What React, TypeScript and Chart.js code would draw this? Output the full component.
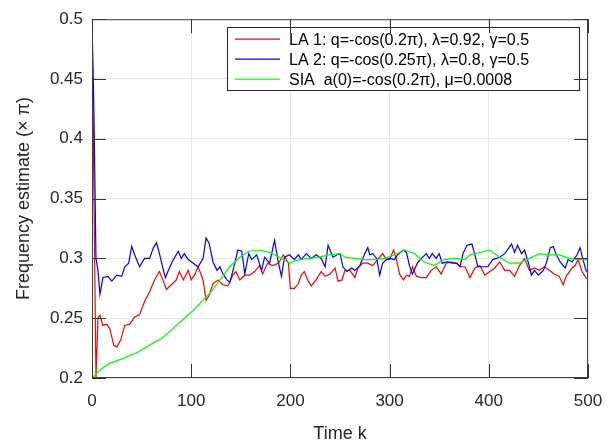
import React, { useEffect, useRef } from 'react';
import { Chart, registerables } from 'chart.js';

Chart.register(...registerables);

// ---- data ----
const la1K = [0, 2, 4, 6, 8, 11, 15, 18, 22, 25, 29, 33, 38, 43, 48, 53, 58, 63, 68, 72, 75, 80, 85, 88, 92, 97, 100, 104, 107, 112, 115, 118, 122, 127, 132, 137, 142, 145, 149, 154, 159, 164, 169, 172, 177, 182, 188, 193, 198, 200, 204, 208, 211, 214, 218, 221, 226, 231, 235, 240, 245, 248, 252, 255, 260, 265, 268, 273, 278, 283, 288, 293, 297, 300, 304, 307, 310, 314, 317, 320, 323, 327, 332, 337, 342, 347, 352, 357, 362, 367, 372, 376, 381, 386, 391, 396, 401, 406, 411, 416, 421, 426, 431, 436, 441, 446, 451, 456, 461, 466, 471, 475, 478, 484, 487, 490, 494, 497, 500];
const la1Values = [0.5, 0.35, 0.2, 0.25, 0.2526, 0.244, 0.245, 0.241, 0.2273, 0.226, 0.232, 0.244, 0.245, 0.251, 0.253, 0.264, 0.272, 0.282, 0.289, 0.281, 0.274, 0.278, 0.282, 0.289, 0.282, 0.29, 0.282, 0.287, 0.293, 0.282, 0.265, 0.269, 0.279, 0.282, 0.278, 0.277, 0.286, 0.289, 0.282, 0.286, 0.286, 0.289, 0.294, 0.287, 0.296, 0.294, 0.296, 0.303, 0.296, 0.275, 0.275, 0.279, 0.286, 0.289, 0.281, 0.277, 0.282, 0.289, 0.285, 0.287, 0.292, 0.281, 0.282, 0.29, 0.29, 0.284, 0.292, 0.296, 0.296, 0.294, 0.299, 0.304, 0.299, 0.299, 0.307, 0.299, 0.287, 0.282, 0.286, 0.285, 0.293, 0.285, 0.284, 0.284, 0.29, 0.293, 0.287, 0.296, 0.297, 0.296, 0.293, 0.293, 0.284, 0.292, 0.294, 0.286, 0.289, 0.292, 0.297, 0.29, 0.29, 0.285, 0.294, 0.3, 0.29, 0.292, 0.29, 0.293, 0.29, 0.287, 0.285, 0.278, 0.285, 0.292, 0.294, 0.299, 0.289, 0.285, 0.282];

const la2K = [0, 2, 4, 6, 8, 11, 16, 20, 25, 30, 33, 37, 40, 43, 48, 53, 58, 62, 65, 68, 72, 74, 78, 82, 87, 90, 93, 97, 102, 107, 112, 115, 118, 122, 126, 129, 132, 136, 139, 144, 147, 151, 154, 158, 161, 166, 171, 174, 179, 184, 188, 191, 194, 199, 204, 208, 211, 216, 221, 226, 231, 235, 238, 243, 247, 250, 253, 257, 262, 265, 270, 275, 278, 280, 283, 287, 290, 293, 297, 300, 305, 308, 314, 317, 320, 323, 328, 332, 337, 340, 343, 347, 350, 353, 358, 363, 368, 371, 374, 378, 383, 386, 389, 394, 399, 404, 411, 416, 423, 426, 429, 433, 436, 440, 443, 446, 450, 455, 458, 462, 465, 468, 472, 477, 480, 484, 489, 492, 495, 498, 500];
const la2Values = [0.5, 0.42, 0.3, 0.29, 0.27, 0.284, 0.285, 0.281, 0.286, 0.285, 0.293, 0.296, 0.31, 0.303, 0.293, 0.3, 0.3, 0.309, 0.313, 0.304, 0.29, 0.284, 0.292, 0.299, 0.306, 0.3, 0.304, 0.299, 0.296, 0.293, 0.3, 0.317, 0.313, 0.297, 0.29, 0.293, 0.287, 0.282, 0.28, 0.296, 0.307, 0.306, 0.287, 0.304, 0.299, 0.303, 0.29, 0.301, 0.296, 0.315, 0.296, 0.285, 0.301, 0.303, 0.299, 0.303, 0.299, 0.304, 0.3, 0.303, 0.3, 0.293, 0.311, 0.301, 0.303, 0.304, 0.293, 0.289, 0.292, 0.29, 0.294, 0.304, 0.309, 0.303, 0.304, 0.3, 0.286, 0.296, 0.299, 0.3, 0.299, 0.303, 0.307, 0.305, 0.294, 0.287, 0.296, 0.3, 0.304, 0.3, 0.304, 0.3, 0.304, 0.296, 0.297, 0.296, 0.296, 0.293, 0.304, 0.311, 0.312, 0.303, 0.293, 0.293, 0.293, 0.299, 0.301, 0.304, 0.312, 0.305, 0.311, 0.304, 0.307, 0.296, 0.286, 0.29, 0.286, 0.29, 0.296, 0.309, 0.31, 0.303, 0.297, 0.292, 0.299, 0.297, 0.303, 0.309, 0.299, 0.29, 0.288];

const siaK = [0, 10, 17, 30, 47, 63, 70, 80, 93, 104, 114, 119, 129, 139, 149, 158, 169, 179, 189, 199, 209, 219, 229, 239, 250, 255, 265, 275, 285, 295, 305, 315, 325, 335, 345, 355, 366, 376, 381, 391, 401, 411, 421, 431, 441, 451, 461, 471, 481, 492, 500];
const siaValues = [0.2, 0.208, 0.212, 0.216, 0.222, 0.23, 0.233, 0.24, 0.25, 0.258, 0.267, 0.271, 0.282, 0.293, 0.301, 0.306, 0.307, 0.305, 0.301, 0.296, 0.299, 0.3, 0.301, 0.303, 0.304, 0.301, 0.3, 0.299, 0.299, 0.3, 0.303, 0.307, 0.304, 0.297, 0.294, 0.299, 0.3, 0.299, 0.303, 0.305, 0.307, 0.301, 0.296, 0.296, 0.3, 0.304, 0.303, 0.303, 0.3, 0.299, 0.299];

const seriesLabels = [
  'LA 1: q=-cos(0.2π), λ=0.92, γ=0.5',
  'LA 2: q=-cos(0.25π), λ=0.8, γ=0.5',
  'SIA  a(0)=-cos(0.2π), μ=0.0008',
];
const seriesColors = ['#ff0000', '#0000ff', '#00ff00'];

const xTicks = [0, 100, 200, 300, 400, 500];
const xTickLabels = ['0', '100', '200', '300', '400', '500'];
const yTicks = [0.2, 0.25, 0.3, 0.35, 0.4, 0.45, 0.5];
const yTickLabels = ['0.2', '0.25', '0.3', '0.35', '0.4', '0.45', '0.5'];

const xTitle = 'Time k';
const yTitle = 'Frequency estimate (× π)';

const FONT = "'Liberation Sans', Arial, sans-serif";
const TEXT_COLOR = '#262626';

const toPoints = (ks: number[], vs: number[]) => ks.map((k, i) => ({ x: k, y: vs[i] }));

const framePlugin = {
  id: 'matlabFrame',
  afterDatasetsDraw(chart: any) {
    const { ctx, chartArea } = chart;
    const { left, right, top, bottom } = chartArea;
    const xs = chart.scales.x;
    const ys = chart.scales.y;
    ctx.save();

    // legend box
    const lw = 352;
    const lh = 63;
    const lx = right - 9 - lw;
    const ly = top + 8;
    ctx.fillStyle = '#ffffff';
    ctx.fillRect(lx, ly, lw, lh);
    ctx.strokeStyle = '#262626';
    ctx.lineWidth = 1;
    ctx.strokeRect(Math.round(lx) + 0.5, Math.round(ly) + 0.5, lw, lh);
    ctx.font = `16px ${FONT}`;
    ctx.textBaseline = 'middle';
    ctx.textAlign = 'left';
    chart.data.datasets.forEach((ds: any, i: number) => {
      const ry = ly + 12 + i * 20;
      ctx.strokeStyle = ds.borderColor;
      ctx.lineWidth = 1.2;
      ctx.beginPath();
      ctx.moveTo(lx + 8, ry);
      ctx.lineTo(lx + 53, ry);
      ctx.stroke();
      ctx.fillStyle = '#000000';
      ctx.fillText(ds.label, lx + 62, ry + 1);
    });

    // frame
    ctx.strokeStyle = '#404040';
    ctx.lineWidth = 1;
    ctx.strokeRect(left + 0.5, top + 0.5, right - left - 1, bottom - top - 1);

    // inward ticks
    const tl = 14;
    ctx.strokeStyle = '#333333';
    ctx.beginPath();
    xTicks.forEach((v) => {
      const px = Math.round(xs.getPixelForValue(v)) + 0.5;
      ctx.moveTo(px, bottom);
      ctx.lineTo(px, bottom - tl);
      ctx.moveTo(px, top);
      ctx.lineTo(px, top + tl);
    });
    yTicks.forEach((v) => {
      const py = Math.round(ys.getPixelForValue(v)) + 0.5;
      ctx.moveTo(left, py);
      ctx.lineTo(left + tl, py);
      ctx.moveTo(right, py);
      ctx.lineTo(right - tl, py);
    });
    ctx.stroke();
    ctx.restore();
  },
};

export default function App() {
  const canvasRef = useRef<HTMLCanvasElement | null>(null);

  useEffect(() => {
    document.body.style.margin = '0';
    const canvas = canvasRef.current;
    if (!canvas) return;
    const chart = new Chart(canvas, {
      type: 'line',
      data: {
        datasets: [
          {
            label: seriesLabels[0],
            data: toPoints(la1K, la1Values),
            borderColor: seriesColors[0],
            borderWidth: 1.2,
            pointRadius: 0,
            tension: 0,
            order: 2,
          },
          {
            label: seriesLabels[1],
            data: toPoints(la2K, la2Values),
            borderColor: seriesColors[1],
            borderWidth: 1.2,
            pointRadius: 0,
            tension: 0,
            order: 1,
          },
          {
            label: seriesLabels[2],
            data: toPoints(siaK, siaValues),
            borderColor: seriesColors[2],
            borderWidth: 1.2,
            pointRadius: 0,
            tension: 0,
            order: 0,
          },
        ],
      },
      options: {
        responsive: false,
        animation: false,
        devicePixelRatio: 1,
        layout: { padding: { top: 15, right: 28, left: 0, bottom: 0 } },
        plugins: {
          legend: { display: false },
          tooltip: { enabled: false },
        },
        scales: {
          x: {
            type: 'linear',
            min: 0,
            max: 500,
            afterBuildTicks: (scale: any) => {
              scale.ticks = xTicks.map((v) => ({ value: v }));
            },
            afterFit: (scale: any) => {
              scale.height = 68;
            },
            ticks: {
              autoSkip: false,
              maxRotation: 0,
              padding: 13,
              color: TEXT_COLOR,
              font: { family: FONT, size: 17 },
              callback: (v: any) => {
                const i = xTicks.indexOf(Number(v));
                return i >= 0 ? xTickLabels[i] : '';
              },
            },
            grid: { color: '#e6e6e6', lineWidth: 1, drawTicks: false },
            border: { display: false },
            title: {
              display: true,
              text: xTitle,
              color: TEXT_COLOR,
              font: { family: FONT, size: 18 },
              padding: { top: 0, bottom: 1 },
            },
          },
          y: {
            type: 'linear',
            min: 0.2,
            max: 0.5,
            afterBuildTicks: (scale: any) => {
              scale.ticks = yTicks.map((v) => ({ value: v }));
            },
            afterFit: (scale: any) => {
              scale.width = 92;
            },
            ticks: {
              autoSkip: false,
              padding: 9,
              color: TEXT_COLOR,
              font: { family: FONT, size: 17 },
              callback: (v: any) => {
                const i = yTicks.findIndex((t) => Math.abs(t - Number(v)) < 1e-9);
                return i >= 0 ? yTickLabels[i] : '';
              },
            },
            grid: { color: '#e6e6e6', lineWidth: 1, drawTicks: false },
            border: { display: false },
            title: {
              display: true,
              text: yTitle,
              color: TEXT_COLOR,
              font: { family: FONT, size: 18 },
              padding: { top: 13, bottom: 0 },
            },
          },
        },
      },
      plugins: [framePlugin],
    });
    return () => chart.destroy();
  }, []);

  return (
    <div style={{ position: 'fixed', left: 0, top: 0, width: 616, height: 446, background: '#ffffff' }}>
      <canvas ref={canvasRef} width={616} height={446} style={{ display: 'block' }} />
    </div>
  );
}
